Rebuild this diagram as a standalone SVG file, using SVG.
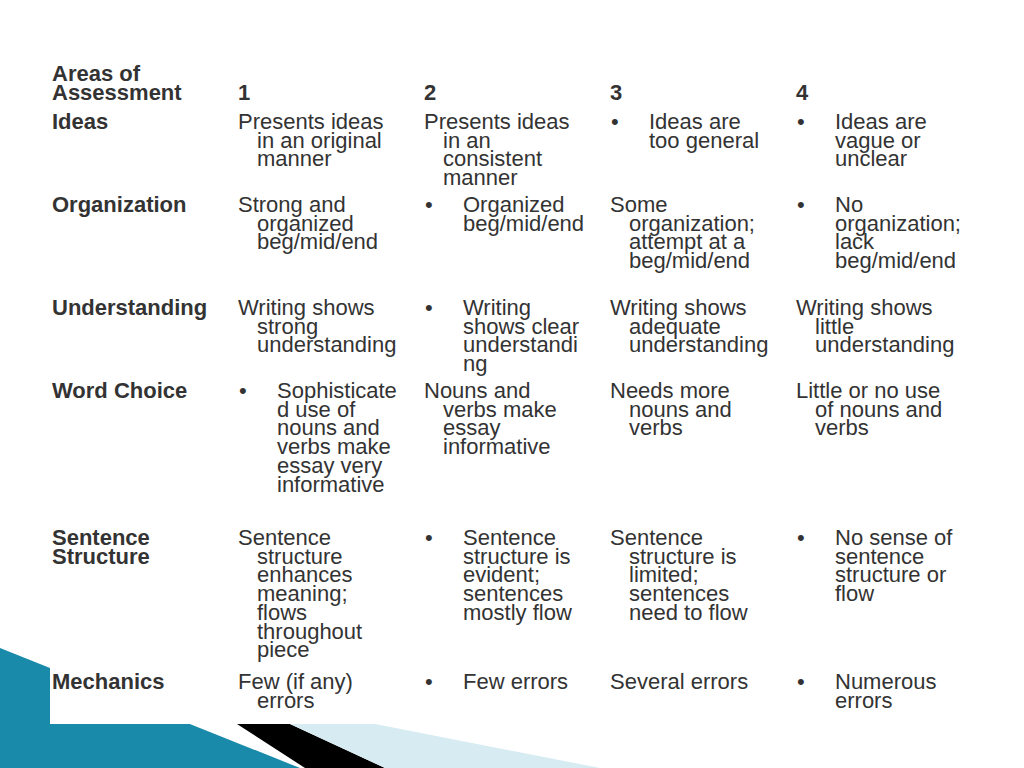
<svg xmlns="http://www.w3.org/2000/svg" width="1024" height="768" viewBox="0 0 1024 768">
<style>
text{font-family:"Liberation Sans",Arial,sans-serif;font-size:22px;fill:#333}
.b{font-weight:bold}
</style>
<rect width="1024" height="768" fill="#fff"/>
<polygon points="0,648 60,672 300,768 0,768" fill="#1a8aaa"/>
<polygon points="237,724 290,724 385,768 305,768" fill="#000"/>
<polygon points="290,724 375,724 600,768 385,768" fill="#d6ebf2"/>
<rect x="50" y="60" width="940" height="664" fill="#fff"/>
<g id="header">
<text class="b" x="52" y="81">Areas of<tspan x="52" dy="19">Assessment</tspan></text>
<text class="b" x="238" y="100">1</text><text class="b" x="424" y="100">2</text><text class="b" x="610" y="100">3</text><text class="b" x="796" y="100">4</text>
</g>
<g id="ideas">
<text class="b" x="52" y="129">Ideas</text>
<text x="238" y="129">Presents ideas<tspan x="257" dy="18.7">in an original</tspan><tspan x="257" dy="18.7">manner</tspan></text>
<text x="424" y="129">Presents ideas<tspan x="443" dy="18.7">in an</tspan><tspan x="443" dy="18.7">consistent</tspan><tspan x="443" dy="18.7">manner</tspan></text>
<text x="611" y="129">•</text><text x="649" y="129">Ideas are<tspan x="649" dy="18.7">too general</tspan></text>
<text x="797" y="129">•</text><text x="835" y="129">Ideas are<tspan x="835" dy="18.7">vague or</tspan><tspan x="835" dy="18.7">unclear</tspan></text>
</g>
<g id="organization">
<text class="b" x="52" y="212">Organization</text>
<text x="238" y="212">Strong and<tspan x="257" dy="18.7">organized</tspan><tspan x="257" dy="18.7">beg/mid/end</tspan></text>
<text x="425" y="212">•</text><text x="463" y="212">Organized<tspan x="463" dy="18.7">beg/mid/end</tspan></text>
<text x="610" y="212">Some<tspan x="629" dy="18.7">organization;</tspan><tspan x="629" dy="18.7">attempt at a</tspan><tspan x="629" dy="18.7">beg/mid/end</tspan></text>
<text x="797" y="212">•</text><text x="835" y="212">No<tspan x="835" dy="18.7">organization;</tspan><tspan x="835" dy="18.7">lack</tspan><tspan x="835" dy="18.7">beg/mid/end</tspan></text>
</g>
<g id="understanding">
<text class="b" x="52" y="315">Understanding</text>
<text x="238" y="315">Writing shows<tspan x="257" dy="18.7">strong</tspan><tspan x="257" dy="18.7">understanding</tspan></text>
<text x="425" y="315">•</text><text x="463" y="315">Writing<tspan x="463" dy="18.7">shows clear</tspan><tspan x="463" dy="18.7">understandi</tspan><tspan x="463" dy="18.7">ng</tspan></text>
<text x="610" y="315">Writing shows<tspan x="629" dy="18.7">adequate</tspan><tspan x="629" dy="18.7">understanding</tspan></text>
<text x="796" y="315">Writing shows<tspan x="815" dy="18.7">little</tspan><tspan x="815" dy="18.7">understanding</tspan></text>
</g>
<g id="wordchoice">
<text class="b" x="52" y="398">Word Choice</text>
<text x="239" y="398">•</text><text x="277" y="398">Sophisticate<tspan x="277" dy="18.7">d use of</tspan><tspan x="277" dy="18.7">nouns and</tspan><tspan x="277" dy="18.7">verbs make</tspan><tspan x="277" dy="18.7">essay very</tspan><tspan x="277" dy="18.7">informative</tspan></text>
<text x="424" y="398">Nouns and<tspan x="443" dy="18.7">verbs make</tspan><tspan x="443" dy="18.7">essay</tspan><tspan x="443" dy="18.7">informative</tspan></text>
<text x="610" y="398">Needs more<tspan x="629" dy="18.7">nouns and</tspan><tspan x="629" dy="18.7">verbs</tspan></text>
<text x="796" y="398">Little or no use<tspan x="815" dy="18.7">of nouns and</tspan><tspan x="815" dy="18.7">verbs</tspan></text>
</g>
<g id="sentence">
<text class="b" x="52" y="545">Sentence<tspan x="52" dy="18.7">Structure</tspan></text>
<text x="238" y="545">Sentence<tspan x="257" dy="18.7">structure</tspan><tspan x="257" dy="18.7">enhances</tspan><tspan x="257" dy="18.7">meaning;</tspan><tspan x="257" dy="18.7">flows</tspan><tspan x="257" dy="18.7">throughout</tspan><tspan x="257" dy="18.7">piece</tspan></text>
<text x="425" y="545">•</text><text x="463" y="545">Sentence<tspan x="463" dy="18.7">structure is</tspan><tspan x="463" dy="18.7">evident;</tspan><tspan x="463" dy="18.7">sentences</tspan><tspan x="463" dy="18.7">mostly flow</tspan></text>
<text x="610" y="545">Sentence<tspan x="629" dy="18.7">structure is</tspan><tspan x="629" dy="18.7">limited;</tspan><tspan x="629" dy="18.7">sentences</tspan><tspan x="629" dy="18.7">need to flow</tspan></text>
<text x="797" y="545">•</text><text x="835" y="545">No sense of<tspan x="835" dy="18.7">sentence</tspan><tspan x="835" dy="18.7">structure or</tspan><tspan x="835" dy="18.7">flow</tspan></text>
</g>
<g id="mechanics">
<text class="b" x="52" y="689">Mechanics</text>
<text x="238" y="689">Few (if any)<tspan x="257" dy="18.7">errors</tspan></text>
<text x="425" y="689">•</text><text x="463" y="689">Few errors</text>
<text x="610" y="689">Several errors</text>
<text x="797" y="689">•</text><text x="835" y="689">Numerous<tspan x="835" dy="18.7">errors</tspan></text>
</g>
</svg>
